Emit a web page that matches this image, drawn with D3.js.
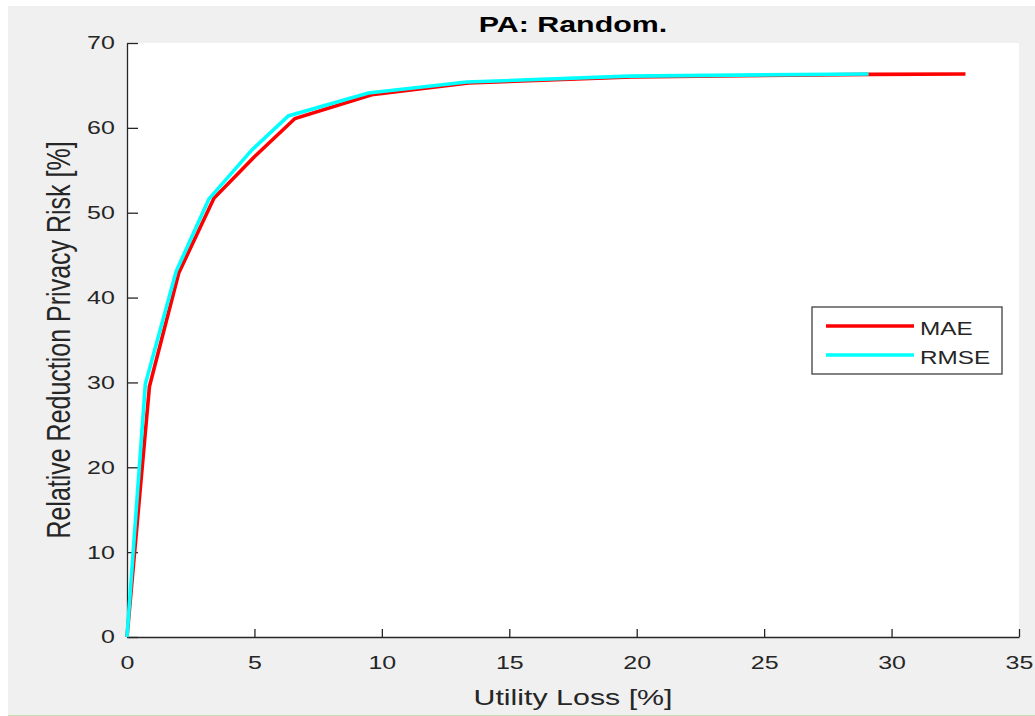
<!DOCTYPE html>
<html>
<head>
<meta charset="utf-8">
<script src="https://cdn.jsdelivr.net/npm/d3@7"></script>
<style>
  body { margin: 0; background: #fff; }
  text { font-family: "Liberation Sans", Arial, sans-serif; fill: #262626; }
</style>
</head>
<body>
<script>
// series values
const maeX = [0, 0.88, 2.03, 3.41, 5.0, 6.59, 9.6, 13.4, 19.8, 29.2, 32.9];
const maeY = [0, 29.5, 42.9, 51.7, 56.6, 61.1, 63.9, 65.3, 66.0, 66.3, 66.35];
const rmseX = [0, 0.72, 1.93, 3.21, 4.9, 6.33, 9.47, 13.33, 19.7, 29.1];
const rmseY = [0, 29.8, 43.1, 51.6, 57.4, 61.4, 64.1, 65.4, 66.1, 66.35];
const xTicks = [0, 5, 10, 15, 20, 25, 30, 35];
const yTicks = [0, 10, 20, 30, 40, 50, 60, 70];
const seriesNames = ['MAE', 'RMSE'];
const seriesColors = ['#ff0000', '#00ffff'];

// the source picture is stretched sideways, so text is too
const stretch = 1.35;
const W = 1035;
const H = 716;
const margin = { top: 43, left: 127, right: 16, bottom: 79 };
const width = W - margin.left - margin.right;
const height = H - margin.top - margin.bottom;

const svg = d3.select('body').append('svg')
  .attr('width', W)
  .attr('height', H);

// figure background
svg.append('rect').attr('x', 8).attr('y', 6).attr('width', W - 8).attr('height', H - 7)
  .attr('fill', '#f0f0f0');
svg.append('line').attr('x1', 8).attr('x2', W).attr('y1', H - 0.5).attr('y2', H - 0.5)
  .attr('stroke', '#c8dcb4');

const g = svg.append('g').attr('transform', `translate(${margin.left},${margin.top})`);
g.append('rect').attr('width', width).attr('height', height).attr('fill', '#fff');

const x = d3.scaleLinear().domain([0, 35]).range([0, width]);
const y = d3.scaleLinear().domain([0, 70]).range([height, 0]);

// axes with inward ticks
const gx = g.append('g').attr('transform', `translate(0,${height})`)
  .call(d3.axisBottom(x).tickValues(xTicks).tickSize(-8).tickPadding(0).tickSizeOuter(0));
const gy = g.append('g')
  .call(d3.axisLeft(y).tickValues(yTicks).tickSize(-11).tickSizeOuter(0));

[gx, gy].forEach((ax) => {
  ax.select('.domain').attr('stroke', '#262626').attr('stroke-width', 1.3);
  ax.selectAll('.tick line').attr('stroke', '#262626').attr('stroke-width', 1.3);
  ax.selectAll('.tick text')
    .attr('fill', '#262626')
    .style('font-family', '"Liberation Sans", Arial, sans-serif')
    .style('font-size', '18.5px')
    .attr('transform', `scale(${stretch},1)`);
});
gx.selectAll('.tick text').attr('y', 32).attr('dy', 0);
gy.selectAll('.tick text').attr('x', -9);

// lines
const line = d3.line().x(d => x(d[0])).y(d => y(d[1]));
const series = [
  d3.zip(maeX, maeY),
  d3.zip(rmseX, rmseY),
];
series.forEach((pts, i) => {
  g.append('path')
    .datum(pts)
    .attr('d', line)
    .attr('fill', 'none')
    .attr('stroke', seriesColors[i])
    .attr('stroke-width', 3.6);
});

// title and axis labels
svg.append('text')
  .attr('transform', `translate(${margin.left + width / 2},32) scale(${stretch},1)`)
  .attr('text-anchor', 'middle')
  .style('font-size', '22.5px')
  .style('font-weight', 'bold')
  .style('fill', '#000')
  .text('PA: Random.');

svg.append('text')
  .attr('transform', `translate(${margin.left + width / 2},705) scale(${stretch},1)`)
  .attr('text-anchor', 'middle')
  .style('font-size', '22.5px')
  .text('Utility Loss [%]');

svg.append('text')
  .attr('transform', `translate(70,${margin.top + height / 2}) scale(${stretch},1) rotate(-90)`)
  .attr('text-anchor', 'middle')
  .style('font-size', '25px')
  .text('Relative Reduction Privacy Risk [%]');

// legend
const legend = svg.append('g').attr('transform', 'translate(812,307)');
legend.append('rect')
  .attr('width', 190).attr('height', 67)
  .attr('fill', '#fff')
  .attr('stroke', '#404040')
  .attr('stroke-width', 1.3);
seriesNames.forEach((name, i) => {
  const ly = 19 + i * 29;
  legend.append('line')
    .attr('x1', 14).attr('x2', 102)
    .attr('y1', ly).attr('y2', ly)
    .attr('stroke', seriesColors[i])
    .attr('stroke-width', 3.6);
  legend.append('text')
    .attr('transform', `translate(108,${ly + 9}) scale(${stretch},1)`)
    .style('font-size', '18px')
    .text(name);
});
</script>
</body>
</html>
